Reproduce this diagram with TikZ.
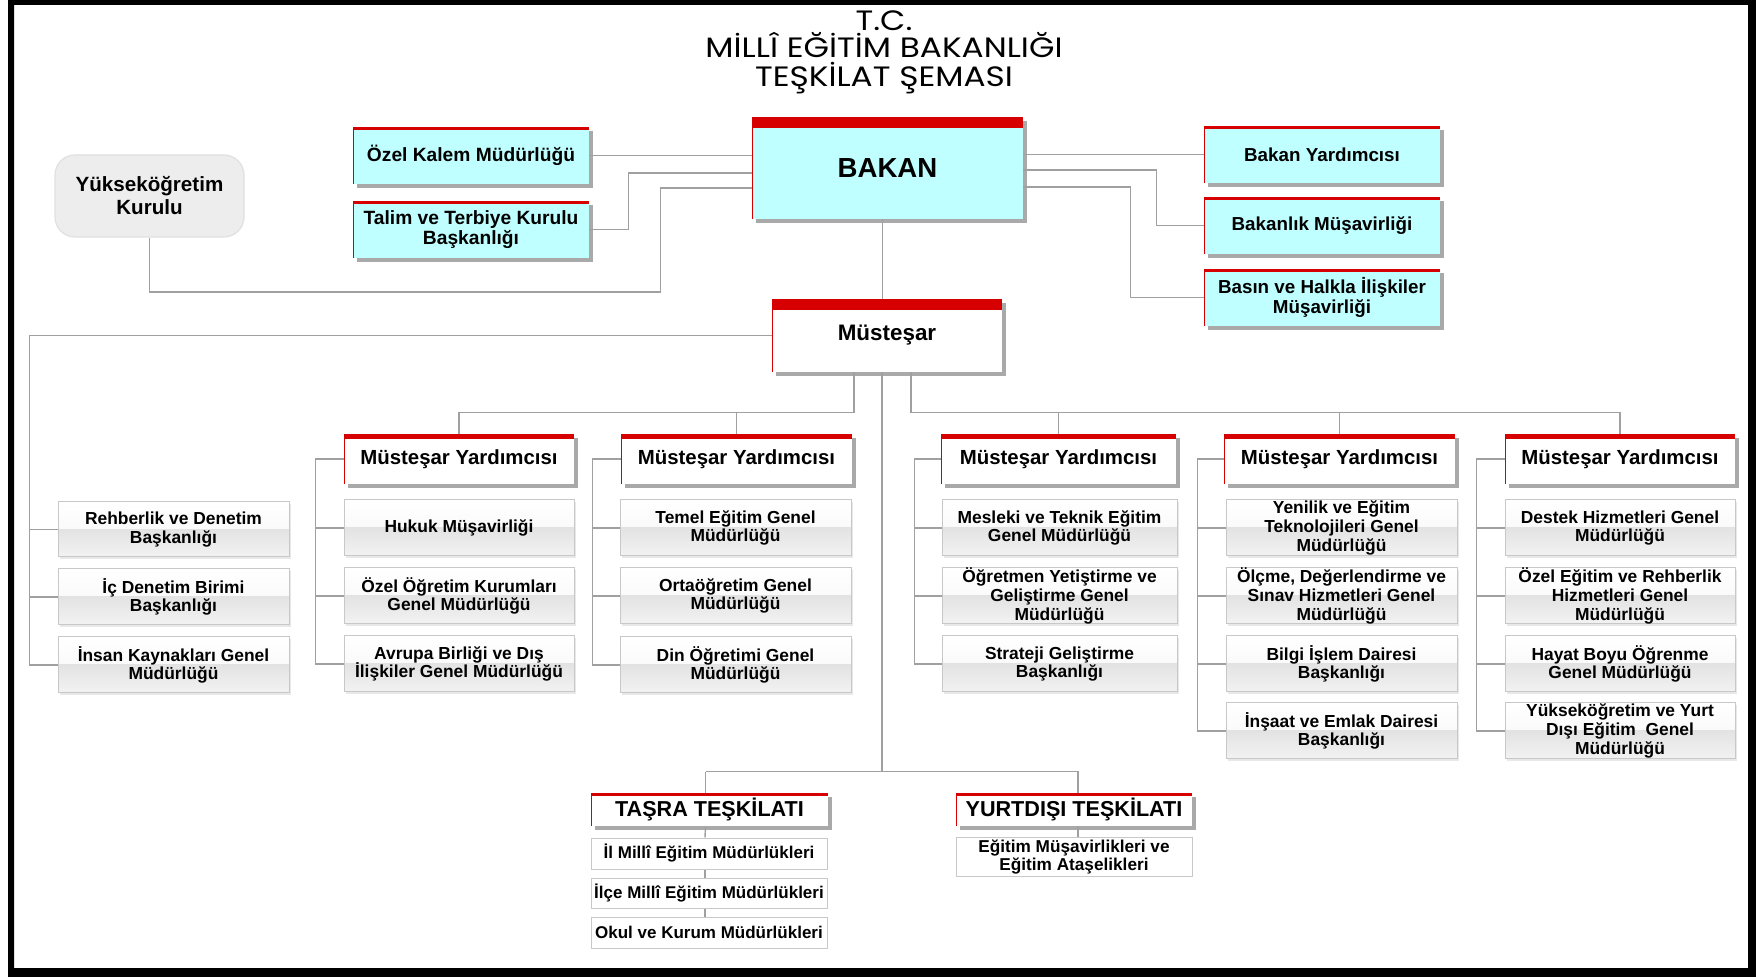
\documentclass[tikz,border=0pt]{standalone}
\usepackage{fontspec}
\setmainfont{Liberation Sans}
\newfontfamily\titlefont{Poppins}
\usetikzlibrary{shadows}

\definecolor{mred}{RGB}{214,0,0}
\definecolor{mcyan}{RGB}{192,255,255}
\definecolor{lgray}{RGB}{160,160,160}
\definecolor{bgray}{RGB}{200,200,200}

\tikzset{
  ln/.style={draw=lgray, line width=0.7pt},
  shd/.style={drop shadow={shadow xshift=1.8pt, shadow yshift=-2.2pt, opacity=0.45, fill=black!75}},
  hdr/.style={inner sep=0pt, align=center, font=\bfseries, shd, path picture={
     \fill[mred] (path picture bounding box.north west) rectangle ([yshift=-#1]path picture bounding box.north east);
     \draw[mred, line width=1pt] (path picture bounding box.north west) -- (path picture bounding box.south west);}},
  cyanbox/.style={hdr=#1, fill=mcyan},
  whitebox/.style={hdr=#1, fill=white},
  subbox/.style={draw=bgray, line width=0.5pt, inner sep=0pt, align=center,
     font=\bfseries\fontsize{8.7}{9.3}\selectfont,
     drop shadow={shadow xshift=0.8pt, shadow yshift=-0.8pt, opacity=0.18},
     path picture={
       \fill[top color=white, bottom color=black!4] (path picture bounding box.north west) rectangle (path picture bounding box.east);
       \fill[top color=black!11, bottom color=black!5] (path picture bounding box.west) rectangle (path picture bounding box.south east);}},
  plainbox/.style={draw=bgray, line width=0.5pt, fill=white, inner sep=0pt, align=center,
     font=\bfseries\fontsize{8.5}{9}\selectfont},
  yokbox/.style={draw=black!12, line width=0.6pt, fill=black!7, rounded corners=10pt, inner sep=0pt, align=center,
     font=\bfseries\fontsize{10.3}{11.5}\selectfont},
  titlet/.style={font=\titlefont\fontsize{14}{14}\selectfont, anchor=base, inner sep=0pt}
}
\newcommand\bx[7]{%
  \pgfmathsetmacro\bxw{(#5-#3)*0.5}%
  \pgfmathsetmacro\bxh{(#6-#4)*0.5}%
  \node[#1, minimum width=\bxw pt, minimum height=\bxh pt] (#2) at ({(#3+#5)/2},{(#4+#6)/2}) {#7};}

\begin{document}
\begin{tikzpicture}[x=0.5pt,y=-0.5pt]
\useasboundingbox (0,0) rectangle (1756,977);
\fill[black,even odd rule] (8,0) rectangle (1756,977) (14,5) rectangle (1748,968);

% title
\node[titlet] (t1) at (884,31) {\scalebox{1.17}[1]{T.C.}};
\node[titlet] (t2) at (884,58) {\scalebox{1.17}[1]{MİLLÎ EĞİTİM BAKANLIĞI}};
\node[titlet] (t3) at (884,87) {\scalebox{1.17}[1]{TEŞKİLAT ŞEMASI}};

% top level
\bx{cyanbox=5.5pt, font=\bfseries\fontsize{13.8}{16}\selectfont}{bakan}{752}{117}{1023}{219}{BAKAN}
\bx{cyanbox=1.75pt, font=\bfseries\fontsize{9.6}{10.4}\selectfont}{ozel}{353}{127}{589}{184}{Özel Kalem Müdürlüğü}
\bx{cyanbox=1.75pt, font=\bfseries\fontsize{9.6}{10.4}\selectfont}{talim}{353}{201}{589}{258}{Talim ve Terbiye Kurulu\\Başkanlığı}
\bx{cyanbox=1.75pt, font=\bfseries\fontsize{9.4}{10.2}\selectfont}{byard}{1204}{126}{1440}{183}{Bakan Yardımcısı}
\bx{cyanbox=1.75pt, font=\bfseries\fontsize{9.4}{10.2}\selectfont}{bmus}{1204}{197}{1440}{254}{Bakanlık Müşavirliği}
\bx{cyanbox=1.75pt, font=\bfseries\fontsize{9.4}{10.2}\selectfont}{basin}{1204}{269}{1440}{326}{Basın ve Halkla İlişkiler\\Müşavirliği}
\bx{yokbox}{yok}{55}{155}{244}{237}{Yükseköğretim\\Kurulu}

\bx{whitebox=5.5pt, font=\bfseries\fontsize{11.2}{13}\selectfont}{mus}{772}{299}{1002}{372}{Müsteşar}

% MY headers
\bx{whitebox=2.5pt, font=\bfseries\fontsize{10.2}{12}\selectfont}{my1}{344}{434}{574}{484}{Müsteşar Yardımcısı}
\bx{whitebox=2.5pt, font=\bfseries\fontsize{10.2}{12}\selectfont}{my2}{621}{434}{852}{484}{Müsteşar Yardımcısı}
\bx{whitebox=2.5pt, font=\bfseries\fontsize{10.2}{12}\selectfont}{my3}{941}{434}{1176}{484}{Müsteşar Yardımcısı}
\bx{whitebox=2.5pt, font=\bfseries\fontsize{10.2}{12}\selectfont}{my4}{1224}{434}{1455}{484}{Müsteşar Yardımcısı}
\bx{whitebox=2.5pt, font=\bfseries\fontsize{10.2}{12}\selectfont}{my5}{1505}{434}{1735}{484}{Müsteşar Yardımcısı}

% left column
\bx{subbox}{reh}{58}{502}{289}{557}{Rehberlik ve Denetim\\Başkanlığı}
\bx{subbox}{icd}{58}{569}{289}{625}{İç Denetim Birimi\\Başkanlığı}
\bx{subbox}{ins}{58}{637}{289}{693}{İnsan Kaynakları Genel\\Müdürlüğü}

% MY1
\bx{subbox}{huk}{344}{500}{574}{556}{Hukuk Müşavirliği}
\bx{subbox}{ozo}{344}{568}{574}{624}{Özel Öğretim Kurumları\\Genel Müdürlüğü}
\bx{subbox}{avr}{344}{636}{574}{692}{Avrupa Birliği ve Dış\\İlişkiler Genel Müdürlüğü}
% MY2
\bx{subbox}{tem}{620}{500}{851}{556}{Temel Eğitim Genel\\Müdürlüğü}
\bx{subbox}{ort}{620}{568}{851}{624}{Ortaöğretim Genel\\Müdürlüğü}
\bx{subbox}{din}{620}{637}{851}{693}{Din Öğretimi Genel\\Müdürlüğü}
% MY3
\bx{subbox}{mes}{942}{500}{1177}{556}{Mesleki ve Teknik Eğitim\\Genel Müdürlüğü}
\bx{subbox}{ogr}{942}{568}{1177}{624}{Öğretmen Yetiştirme ve\\Geliştirme Genel\\Müdürlüğü}
\bx{subbox}{str}{942}{636}{1177}{692}{Strateji Geliştirme\\Başkanlığı}
% MY4
\bx{subbox}{yen}{1226}{500}{1457}{556}{Yenilik ve Eğitim\\Teknolojileri Genel\\Müdürlüğü}
\bx{subbox}{olc}{1226}{568}{1457}{624}{Ölçme, Değerlendirme ve\\Sınav Hizmetleri Genel\\Müdürlüğü}
\bx{subbox}{bil}{1226}{636}{1457}{692}{Bilgi İşlem Dairesi\\Başkanlığı}
\bx{subbox}{inse}{1226}{703}{1457}{759}{İnşaat ve Emlak Dairesi\\Başkanlığı}
% MY5
\bx{subbox}{des}{1505}{500}{1735}{556}{Destek Hizmetleri Genel\\Müdürlüğü}
\bx{subbox}{oze}{1505}{568}{1735}{624}{Özel Eğitim ve Rehberlik\\Hizmetleri Genel\\Müdürlüğü}
\bx{subbox}{hay}{1505}{636}{1735}{692}{Hayat Boyu Öğrenme\\Genel Müdürlüğü}
\bx{subbox}{yuk}{1505}{703}{1735}{759}{Yükseköğretim ve Yurt\\Dışı Eğitim\ \ Genel\\Müdürlüğü}

% taşra / yurtdışı
\bx{whitebox=1.25pt, font=\bfseries\fontsize{10.8}{12}\selectfont}{tasra}{591}{793}{828}{826}{TAŞRA TEŞKİLATI}
\bx{whitebox=1.25pt, font=\bfseries\fontsize{10.8}{12}\selectfont}{yurt}{956}{793}{1192}{826}{YURTDIŞI TEŞKİLATI}
\bx{plainbox}{il}{591}{838}{827}{869}{İl Millî Eğitim Müdürlükleri}
\bx{plainbox}{ilce}{591}{878}{827}{908}{İlçe Millî Eğitim Müdürlükleri}
\bx{plainbox}{okul}{591}{917}{827}{948}{Okul ve Kurum Müdürlükleri}
\bx{plainbox, font=\bfseries\fontsize{8.6}{9}\selectfont}{ymus}{956}{837}{1192}{876}{Eğitim Müşavirlikleri ve\\Eğitim Ataşelikleri}

% ---- connectors ----
\draw[ln] (bakan.west |- ozel.east) -- (ozel.east);
\draw[ln] ([yshift=-2.5pt]bakan.west) -- ++(-123,0) |- (talim.east);
\draw[ln] ([yshift=-10pt]bakan.west) -- ++(-91,0) -- ++(0,104) -| (yok.south);
\draw[ln] (bakan.east |- byard.west) -- (byard.west);
\draw[ln] ([yshift=-1pt]bakan.east) -- ++(133,0) |- (bmus.west);
\draw[ln] ([yshift=-9.5pt]bakan.east) -- ++(107,0) |- (basin.west);
\draw[ln] ([xshift=-2.5pt]bakan.south) -- ([xshift=-2.5pt]bakan.south |- mus.north);

% left column
\draw[ln] (mus.west) -| ([xshift=-14pt]ins.west) -- (ins.west);
\draw[ln] ([xshift=-14pt]reh.west) -- (reh.west);
\draw[ln] ([xshift=-14pt]icd.west) -- (icd.west);

% MY buses
\draw[ln] ([xshift=-16.5pt]mus.south) |- ([yshift=10.5pt]my1.north) -- (my1.north);
\draw[ln] ([yshift=10.5pt]my2.north) -- (my2.north);
\draw[ln] ([xshift=12pt]mus.south) |- ([yshift=10.5pt]my5.north) -- (my5.north);
\draw[ln] ([yshift=10.5pt]my3.north) -- (my3.north);
\draw[ln] ([yshift=10.5pt]my4.north) -- (my4.north);

% MY columns
\draw[ln] (my1.west) -| ([xshift=-14pt]avr.west) -- (avr.west);
\draw[ln] ([xshift=-14pt]huk.west) -- (huk.west);
\draw[ln] ([xshift=-14pt]ozo.west) -- (ozo.west);

\draw[ln] (my2.west) -| ([xshift=-13.5pt]din.west) -- (din.west);
\draw[ln] ([xshift=-13.5pt]tem.west) -- (tem.west);
\draw[ln] ([xshift=-13.5pt]ort.west) -- (ort.west);

\draw[ln] (my3.west) -| ([xshift=-13.5pt]str.west) -- (str.west);
\draw[ln] ([xshift=-13.5pt]mes.west) -- (mes.west);
\draw[ln] ([xshift=-13.5pt]ogr.west) -- (ogr.west);

\draw[ln] (my4.west) -| ([xshift=-14pt]inse.west) -- (inse.west);
\draw[ln] ([xshift=-14pt]yen.west) -- (yen.west);
\draw[ln] ([xshift=-14pt]olc.west) -- (olc.west);
\draw[ln] ([xshift=-14pt]bil.west) -- (bil.west);

\draw[ln] (my5.west) -| ([xshift=-14pt]yuk.west) -- (yuk.west);
\draw[ln] ([xshift=-14pt]des.west) -- (des.west);
\draw[ln] ([xshift=-14pt]oze.west) -- (oze.west);
\draw[ln] ([xshift=-14pt]hay.west) -- (hay.west);

% lower trunk
\draw[ln] ([xshift=-2.5pt]mus.south) -- ([xshift=-2.5pt,yshift=10.5pt]mus.south |- tasra.north);
\draw[ln] ([xshift=-2pt,yshift=10.5pt]tasra.north) -- ([xshift=2pt,yshift=10.5pt]yurt.north) -- ([xshift=2pt]yurt.north);
\draw[ln] ([xshift=-2pt,yshift=10.5pt]tasra.north) -- ([xshift=-2pt]tasra.north);
\draw[ln] ([xshift=-2pt]tasra.south) -- ([xshift=-2pt]il.north);
\draw[ln] ([xshift=-2pt]il.south) -- ([xshift=-2pt]ilce.north);
\draw[ln] ([xshift=-2pt]ilce.south) -- ([xshift=-2pt]okul.north);
\draw[ln] ([xshift=2pt]yurt.south) -- ([xshift=2pt]ymus.north);
\end{tikzpicture}
\end{document}
